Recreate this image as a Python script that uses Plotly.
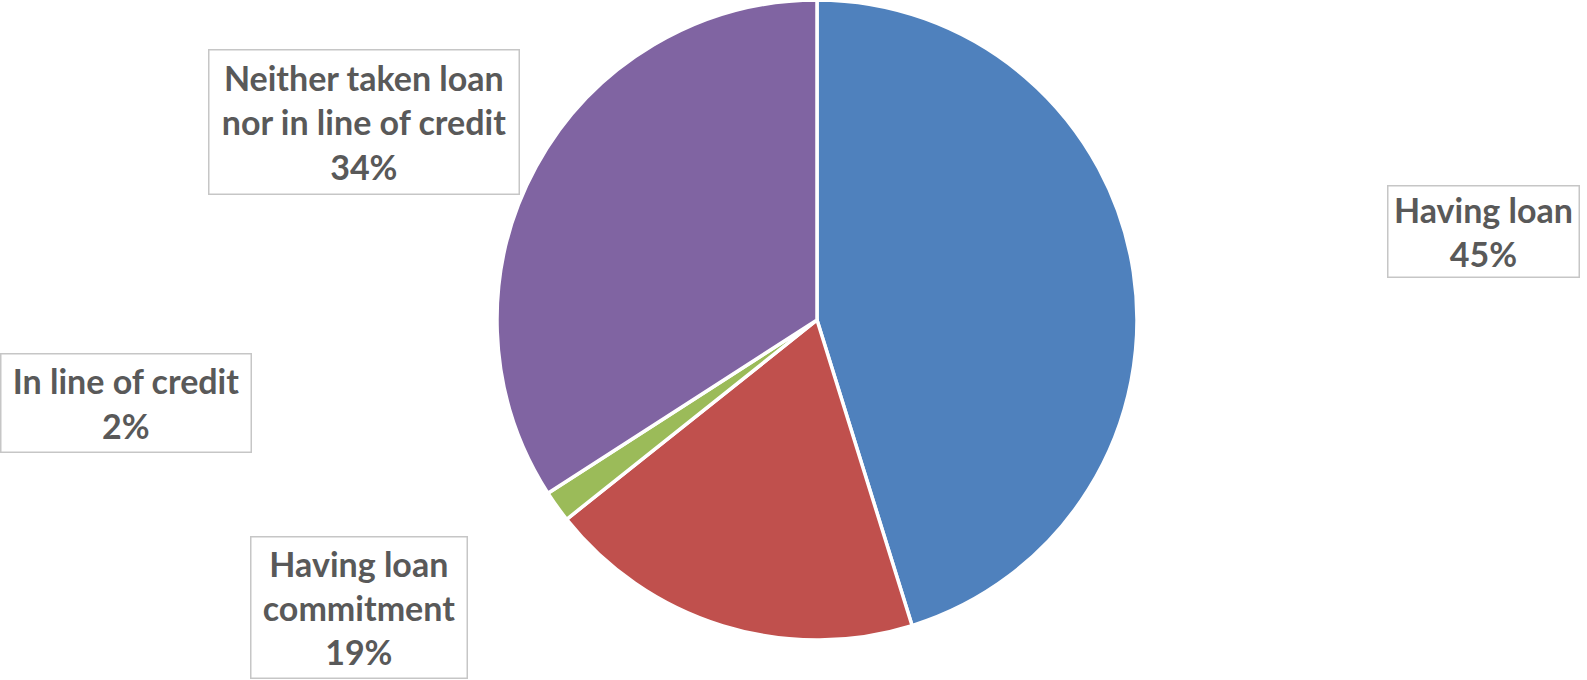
import plotly.graph_objects as go

labels = ["Having loan", "Having loan commitment", "In line of credit", "Neither taken loan nor in line of credit"]
values = [45.2, 19.1, 1.6, 34.1]
colors = ["#4F81BD", "#C0504D", "#9BBB59", "#8064A2"]
label_text = ["Having loan<br>45%", "Having loan<br>commitment<br>19%", "In line of credit<br>2%",
              "Neither taken loan<br>nor in line of credit<br>34%"]
# box centers (px) and sizes
box_cx = [1483, 358.5, 126.5, 363.5]
box_cy = [231, 607, 402.5, 121.5]
box_w = [190, 215, 249, 309]
box_h = [90, 140, 97, 143]

W, H = 1587, 680
fig = go.Figure()
fig.add_trace(go.Pie(
    labels=labels, values=values, sort=False, direction="clockwise", rotation=0,
    marker=dict(colors=colors, line=dict(color="white", width=3.5)),
    textinfo="none", hoverinfo="label+percent",
    domain=dict(x=[497 / W, 1137 / W], y=[(H - 640) / H, (H - 0) / H]),
    showlegend=False,
))
for t, cx, cy, w, h in zip(label_text, box_cx, box_cy, box_w, box_h):
    fig.add_annotation(
        x=cx / W, y=1 - cy / H, xref="paper", yref="paper", xanchor="center", yanchor="middle",
        text="<b>" + t + "</b>", showarrow=False, align="center", valign="middle",
        width=w, height=h, borderpad=0, bordercolor="#C6C6C6", borderwidth=1.5, bgcolor="white",
        font=dict(family="Lato", size=34, color="#595959"),
    )
fig.update_layout(width=W, height=H, margin=dict(l=0, r=0, t=0, b=0),
                  paper_bgcolor="white", plot_bgcolor="white")
fig.write_html("out.html", config={"displayModeBar": False},
               post_script="document.body.style.margin='0';document.body.style.padding='0';")
